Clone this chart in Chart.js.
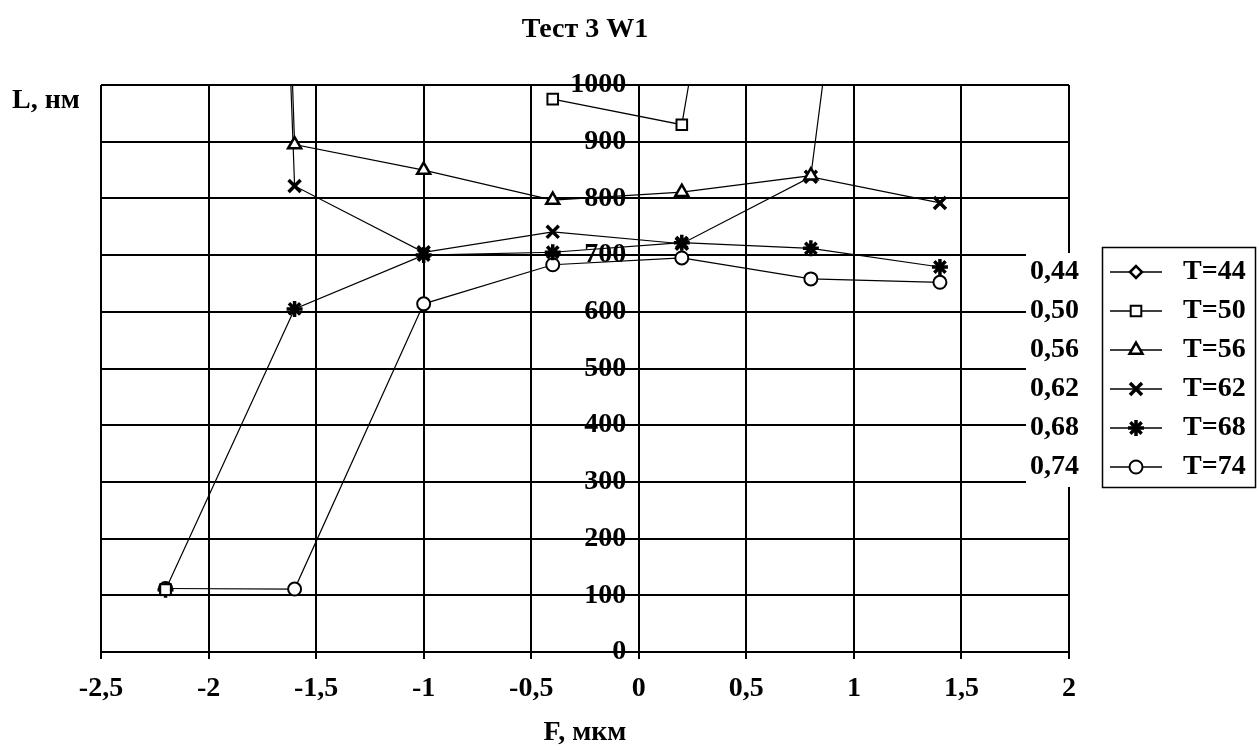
<!DOCTYPE html>
<html><head><meta charset="utf-8">
<script src="https://cdn.jsdelivr.net/npm/chart.js@4.4.0/dist/chart.umd.min.js"></script>
<style>html,body{margin:0;padding:0;background:#fff;}#wrap{width:1259px;height:750px;}</style>
</head><body><div id="wrap"><canvas id="c" width="1259" height="750"></canvas></div>
<script>
// ---- data ----
const xValues = [-2.2, -1.6, -1.0, -0.4, 0.2, 0.8, 1.4];
const seriesNames = ['T=44', 'T=50', 'T=56', 'T=62', 'T=68', 'T=74'];
const t44 = [null, null, null, null, null, null, null];
const t50 = [110, null, null, 975, 930, 2250, null];
const t56 = [7500, 895, 850, 797, 811, 840, 2600];
const t62 = [7000, 822, 705, 741, 720, 838, 792];
const t68 = [110, 605, 700, 705, 722, 712, 679];
const t74 = [112, 111, 614, 683, 695, 658, 652];
const xTickMin = -2.5, xTickMax = 2, xTickStep = 0.5;
const yTickMin = 0, yTickMax = 1000, yTickStep = 100;
const sideLabels = ['0,44', '0,50', '0,56', '0,62', '0,68', '0,74'];
const chartTitle = 'Тест 3 W1';
const yTitle = 'L, нм';
const xTitle = 'F, мкм';

// ---- styles ----
const FONT = '"Liberation Serif", "Times New Roman", serif';
const FS = 28;
const markerStyles = [
  {pointStyle: 'rectRot', radius: 6, borderWidth: 2.5},
  {pointStyle: 'rect', radius: 7.5, borderWidth: 2},
  {pointStyle: 'triangle', radius: 7.5, borderWidth: 2.5},
  {pointStyle: 'crossRot', radius: 8.5, borderWidth: 3.5},
  {pointStyle: 'star', radius: 8, borderWidth: 3.5},
  {pointStyle: 'circle', radius: 6.5, borderWidth: 2}
];
const allSeries = [t44, t50, t56, t62, t68, t74];

const datasets = allSeries.map((vals, i) => ({
  label: seriesNames[i],
  data: xValues.map((x, j) => ({x: x, y: vals[j]})),
  showLine: true,
  spanGaps: false,
  borderColor: '#000',
  borderWidth: 1.2,
  backgroundColor: '#fff',
  pointBackgroundColor: '#fff',
  pointBorderColor: '#000',
  pointStyle: markerStyles[i].pointStyle,
  pointRadius: markerStyles[i].radius,
  pointBorderWidth: markerStyles[i].borderWidth,
  pointHoverRadius: markerStyles[i].radius,
  tension: 0
}));

const fmt = v => String(Math.round(v * 10) / 10).replace('.', ',');

const overlay = {
  id: 'overlay',
  afterDraw(chart) {
    const ctx = chart.ctx;
    ctx.save();
    // white box that hides right end of grid, holding side labels
    ctx.fillStyle = '#fff';
    ctx.fillRect(1026, 253, 72, 234);
    ctx.fillStyle = '#000';
    ctx.font = 'bold ' + FS + 'px ' + FONT;
    ctx.textBaseline = 'middle';
    ctx.textAlign = 'left';
    sideLabels.forEach((s, i) => ctx.fillText(s, 1030, 272 + 39 * i));
    // y title
    ctx.fillText(yTitle, 12, 101);
    // legend
    ctx.strokeStyle = '#000';
    ctx.lineWidth = 1.5;
    ctx.strokeRect(1102.5, 247.5, 153, 240);
    chart.data.datasets.forEach((ds, i) => {
      const y = 272 + 39 * i;
      ctx.lineWidth = 1.5;
      ctx.beginPath();
      ctx.moveTo(1110, y); ctx.lineTo(1162, y); ctx.stroke();
      ctx.fillStyle = '#fff';
      ctx.strokeStyle = '#000';
      ctx.lineWidth = ds.pointBorderWidth;
      Chart.helpers.drawPoint(ctx, {pointStyle: ds.pointStyle, rotation: 0, radius: ds.pointRadius, borderWidth: ds.pointBorderWidth}, 1136, y);
      ctx.fillStyle = '#000';
      ctx.fillText(ds.label, 1183, y);
    });
    ctx.restore();
  }
};

new Chart(document.getElementById('c'), {
  type: 'scatter',
  data: {datasets},
  plugins: [overlay],
  options: {
    responsive: false,
    animation: false,
    events: [],
    layout: {padding: {left: 101, right: 190, top: 0, bottom: 0}},
    plugins: {
      legend: {display: false},
      tooltip: {enabled: false},
      title: {display: true, text: chartTitle, color: '#000',
        font: {family: FONT, size: FS, weight: 'bold'}, padding: {top: 13, bottom: 38.4}}
    },
    scales: {
      x: {
        type: 'linear', min: xTickMin, max: xTickMax,
        ticks: {stepSize: xTickStep, color: '#000', font: {family: FONT, size: FS, weight: 'bold'},
          padding: 13, callback: v => fmt(v), maxRotation: 0, autoSkip: false},
        grid: {color: '#000', lineWidth: 2, tickLength: 7, drawOnChartArea: true},
        border: {color: '#000', width: 2},
        title: {display: true, text: xTitle, color: '#000', font: {family: FONT, size: FS, weight: 'bold'}, padding: {top: 0, bottom: 0}},
        afterFit: s => { s.height = 98; }
      },
      y: {
        type: 'linear', position: {x: 0}, min: yTickMin, max: yTickMax,
        ticks: {stepSize: yTickStep, color: '#000', font: {family: FONT, size: FS, weight: 'bold'}, padding: 10,
          callback: v => String(v) + ' \u2009'},
        grid: {color: '#000', lineWidth: 2, drawTicks: false},
        border: {color: '#000', width: 2}
      }
    }
  }
});
</script></body></html>
